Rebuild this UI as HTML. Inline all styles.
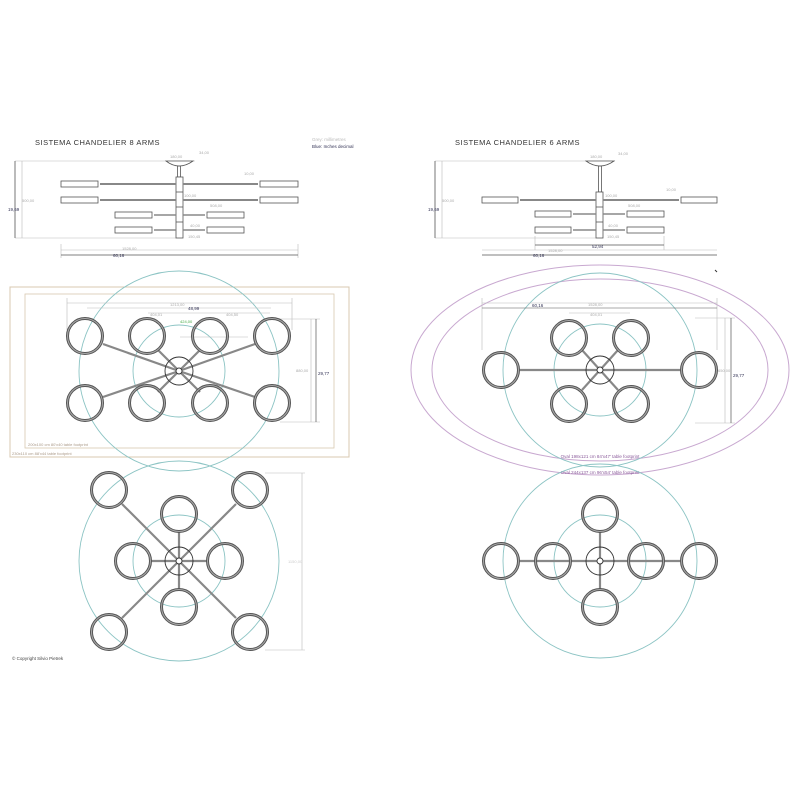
<!DOCTYPE html>
<html><head><meta charset="utf-8"><style>
html,body{margin:0;padding:0;background:#fff;}
svg{display:block}
text{font-family:"Liberation Sans",sans-serif;}
</style></head><body>
<svg width="800" height="800" viewBox="0 0 800 800" xmlns="http://www.w3.org/2000/svg">
<defs>
<g id="lampr"><circle r="17.5" fill="none" stroke="#555" stroke-width="3"/><circle r="17.5" fill="none" stroke="#aaa" stroke-width="1"/></g>
</defs>
<!-- ============ LEFT SIDE VIEW ============ -->
<text x="35" y="145" font-size="7.5" fill="#333" letter-spacing="0.5">SISTEMA  CHANDELIER  8  ARMS</text>
<text x="312" y="141" font-size="4.5" fill="#bbb">Grey: millimetres</text>
<text x="312" y="148" font-size="4.5" fill="#335">Blue: Inches  decimal</text>
<g stroke="#bbb" stroke-width="0.6" fill="none">
<line x1="15" y1="161" x2="195" y2="161"/><line x1="15" y1="238" x2="176" y2="238"/>
<line x1="61" y1="250" x2="298" y2="250"/><line x1="61" y1="244" x2="61" y2="258"/><line x1="298" y1="244" x2="298" y2="258"/>
<line x1="22" y1="161" x2="22" y2="238"/>
</g>
<g stroke="#555" stroke-width="0.8" fill="none">
<line x1="15" y1="161" x2="15" y2="238"/>
<line x1="61" y1="255" x2="298" y2="255"/>
<path d="M166 161 Q179 171 193 161 Z" fill="#fff"/>
<rect x="177.5" y="166" width="3" height="11"/>
<rect x="176" y="177" width="7" height="61" fill="#fff"/>
<line x1="176" y1="192" x2="183" y2="192"/><line x1="176" y1="207" x2="183" y2="207"/><line x1="176" y1="222" x2="183" y2="222"/>
<rect x="61" y="181" width="37" height="6" fill="#fff"/><rect x="260" y="181" width="38" height="6" fill="#fff"/>
<rect x="61" y="197" width="37" height="6" fill="#fff"/><rect x="260" y="197" width="38" height="6" fill="#fff"/>
<rect x="115" y="212" width="37" height="6" fill="#fff"/><rect x="207" y="212" width="37" height="6" fill="#fff"/>
<rect x="115" y="227" width="37" height="6" fill="#fff"/><rect x="207" y="227" width="37" height="6" fill="#fff"/>
</g>
<g stroke="#888" stroke-width="2"><line x1="100" y1="184" x2="176" y2="184"/><line x1="183" y1="184" x2="258" y2="184"/>
<line x1="100" y1="200" x2="176" y2="200"/><line x1="183" y1="200" x2="258" y2="200"/>
<line x1="154" y1="215" x2="176" y2="215" stroke-width="1.4"/><line x1="183" y1="215" x2="205" y2="215" stroke-width="1.4"/>
<line x1="154" y1="230" x2="176" y2="230" stroke-width="1.4"/><line x1="183" y1="230" x2="205" y2="230" stroke-width="1.4"/></g>
<g font-size="4" fill="#aaa"><text x="170" y="158">180,00</text><text x="199" y="154">34,00</text><text x="244" y="175">10,00</text>
<text x="184" y="197">100,00</text><text x="210" y="207">508,00</text><text x="190" y="227">40,00</text><text x="188" y="238">150,45</text>
<text x="122" y="250">1528,00</text><text x="22" y="202">500,00</text></g>
<text x="8" y="211" font-size="4.5" fill="#335">19,69</text>
<text x="113" y="257" font-size="4.5" fill="#335">60,16</text>
<!-- ============ LEFT PLAN ============ -->
<rect x="10" y="287" width="339" height="170" fill="none" stroke="#d8c8b0" stroke-width="1"/>
<rect x="25" y="294" width="309" height="154" fill="none" stroke="#d8c8b0" stroke-width="0.8"/>
<text x="28" y="446" font-size="4" fill="#a98">200x100  cm  80'x40  table  footprint</text>
<text x="12" y="455" font-size="4" fill="#a98">230x110  cm  88'x44  table  footprint</text>
<g fill="none" stroke="#8cc4c4" stroke-width="0.9"><circle cx="179" cy="371" r="100"/><circle cx="179" cy="371" r="46"/></g>
<g stroke="#bbb" stroke-width="0.6" fill="none"><line x1="67" y1="303" x2="292" y2="303"/><line x1="87" y1="308" x2="271" y2="308"/>
<line x1="148" y1="313" x2="270" y2="313"/><line x1="67" y1="298" x2="67" y2="330"/><line x1="292" y1="298" x2="292" y2="330"/>
<line x1="180" y1="337" x2="248" y2="337"/><line x1="280" y1="319" x2="320" y2="319"/><line x1="280" y1="422" x2="320" y2="422"/>
<line x1="311" y1="319" x2="311" y2="422"/></g>
<line x1="316" y1="319" x2="316" y2="422" stroke="#555" stroke-width="0.7"/>
<g font-size="4" fill="#aaa"><text x="170" y="306">1213,00</text><text x="150" y="316">404,01</text><text x="226" y="316">404,50</text><text x="296" y="372">880,00</text></g>
<text x="188" y="310" font-size="4.5" fill="#335">48,99</text>
<text x="318" y="375" font-size="4.5" fill="#335">29,77</text>
<text x="180" y="323" font-size="4" fill="#4a4">424,00</text>
<g stroke="#888" stroke-width="2.2"><line x1="179" y1="371" x2="103" y2="344"/><line x1="179" y1="371" x2="255" y2="344"/><line x1="179" y1="371" x2="103" y2="397"/><line x1="179" y1="371" x2="255" y2="397"/>
<line x1="179" y1="371" x2="158" y2="350"/><line x1="179" y1="371" x2="200" y2="350"/><line x1="179" y1="371" x2="158" y2="392"/><line x1="179" y1="371" x2="200" y2="392"/></g>
<g fill="none" stroke="#333" stroke-width="0.9"><circle cx="179" cy="371" r="14" fill="none"/><circle cx="179" cy="371" r="3" fill="#fff"/></g>
<use href="#lampr" x="85" y="336"/><use href="#lampr" x="147" y="336"/><use href="#lampr" x="210" y="336"/><use href="#lampr" x="272" y="336"/>
<use href="#lampr" x="85" y="403"/><use href="#lampr" x="147" y="403"/><use href="#lampr" x="210" y="403"/><use href="#lampr" x="272" y="403"/>
<!-- ============ LEFT BOTTOM ============ -->
<g fill="none" stroke="#8cc4c4" stroke-width="0.9"><circle cx="179" cy="561" r="100"/><circle cx="179" cy="561" r="46"/></g>
<g stroke="#bbb" stroke-width="0.6"><line x1="302" y1="473" x2="302" y2="650"/><line x1="265" y1="473" x2="305" y2="473"/><line x1="265" y1="650" x2="305" y2="650"/></g>
<text x="288" y="563" font-size="4" fill="#ccc">1150,00</text>
<g stroke="#888" stroke-width="2.2"><line x1="179" y1="561" x2="122" y2="504"/><line x1="179" y1="561" x2="236" y2="504"/><line x1="179" y1="561" x2="122" y2="618"/><line x1="179" y1="561" x2="236" y2="618"/>
<line x1="179" y1="561" x2="179" y2="532"/><line x1="179" y1="561" x2="179" y2="590"/><line x1="179" y1="561" x2="151" y2="561"/><line x1="179" y1="561" x2="207" y2="561"/></g>
<g fill="none" stroke="#333" stroke-width="0.9"><circle cx="179" cy="561" r="14"/><circle cx="179" cy="561" r="3" fill="#fff"/></g>
<use href="#lampr" x="109" y="490"/><use href="#lampr" x="250" y="490"/><use href="#lampr" x="109" y="632"/><use href="#lampr" x="250" y="632"/>
<use href="#lampr" x="179" y="514"/><use href="#lampr" x="133" y="561"/><use href="#lampr" x="225" y="561"/><use href="#lampr" x="179" y="607"/>
<text x="12" y="660" font-size="4.5" fill="#444">© Copyright Silvio Pietrek</text>
<!-- ============ RIGHT SIDE VIEW ============ -->
<text x="455" y="145" font-size="7.5" fill="#333" letter-spacing="0.5">SISTEMA  CHANDELIER  6  ARMS</text>
<g stroke="#bbb" stroke-width="0.6" fill="none">
<line x1="435" y1="161" x2="615" y2="161"/><line x1="435" y1="238" x2="596" y2="238"/>
<line x1="482" y1="250" x2="717" y2="250"/><line x1="442" y1="161" x2="442" y2="238"/>
<line x1="535" y1="236" x2="535" y2="250"/><line x1="664" y1="236" x2="664" y2="250"/>
</g>
<g stroke="#555" stroke-width="0.8" fill="none">
<line x1="435" y1="161" x2="435" y2="238"/>
<line x1="482" y1="255" x2="717" y2="255"/><line x1="535" y1="245" x2="664" y2="245"/>
<path d="M586 161 Q600 171 614 161 Z" fill="#fff"/>
<rect x="598.5" y="166" width="3" height="26"/>
<rect x="596" y="192" width="7" height="46" fill="#fff"/>
<line x1="596" y1="207" x2="603" y2="207"/><line x1="596" y1="222" x2="603" y2="222"/>
<rect x="482" y="197" width="36" height="6" fill="#fff"/><rect x="681" y="197" width="36" height="6" fill="#fff"/>
<rect x="535" y="211" width="36" height="6" fill="#fff"/><rect x="627" y="211" width="37" height="6" fill="#fff"/>
<rect x="535" y="227" width="36" height="6" fill="#fff"/><rect x="627" y="227" width="37" height="6" fill="#fff"/>
</g>
<g stroke="#888" stroke-width="2"><line x1="520" y1="200" x2="596" y2="200"/><line x1="603" y1="200" x2="679" y2="200"/>
<line x1="573" y1="214" x2="596" y2="214" stroke-width="1.4"/><line x1="603" y1="214" x2="625" y2="214" stroke-width="1.4"/>
<line x1="573" y1="230" x2="596" y2="230" stroke-width="1.4"/><line x1="603" y1="230" x2="625" y2="230" stroke-width="1.4"/></g>
<g font-size="4" fill="#aaa"><text x="590" y="158">180,00</text><text x="618" y="155">34,00</text><text x="666" y="191">10,00</text>
<text x="605" y="197">100,00</text><text x="628" y="207">508,00</text><text x="608" y="227">40,00</text><text x="607" y="238">150,45</text>
<text x="548" y="252">1528,00</text><text x="442" y="202">500,00</text></g>
<text x="428" y="211" font-size="4.5" fill="#335">19,69</text>
<text x="592" y="248" font-size="4.5" fill="#335">52,94</text>
<text x="533" y="257" font-size="4.5" fill="#335">60,16</text>
<!-- ============ RIGHT PLAN ============ -->
<g fill="none" stroke="#c8a8d0" stroke-width="1"><ellipse cx="600" cy="370" rx="189" ry="105"/><ellipse cx="600" cy="370" rx="168" ry="91"/></g>
<g fill="none" stroke="#8cc4c4" stroke-width="0.9"><circle cx="600" cy="370" r="97"/><circle cx="600" cy="370" r="46"/></g>
<g stroke="#bbb" stroke-width="0.6" fill="none"><line x1="482" y1="303" x2="717" y2="303"/><line x1="569" y1="313" x2="630" y2="313"/>
<line x1="482" y1="298" x2="482" y2="350"/><line x1="717" y1="298" x2="717" y2="350"/><line x1="695" y1="318" x2="735" y2="318"/><line x1="695" y1="423" x2="735" y2="423"/><line x1="725" y1="318" x2="725" y2="423"/></g>
<line x1="731" y1="318" x2="731" y2="423" stroke="#555" stroke-width="0.7"/>
<line x1="482" y1="308" x2="717" y2="308" stroke="#555" stroke-width="0.6"/>
<g font-size="4" fill="#aaa"><text x="588" y="306">1528,00</text><text x="590" y="316">404,01</text><text x="718" y="372">650,00</text></g>
<text x="532" y="307" font-size="4.5" fill="#335">60,16</text>
<text x="733" y="377" font-size="4.5" fill="#335">29,77</text>
<g stroke="#888" stroke-width="2.2"><line x1="520" y1="370" x2="680" y2="370"/>
<line x1="600" y1="370" x2="582" y2="350"/><line x1="600" y1="370" x2="618" y2="350"/><line x1="600" y1="370" x2="582" y2="390"/><line x1="600" y1="370" x2="618" y2="390"/></g>
<g fill="none" stroke="#333" stroke-width="0.9"><circle cx="600" cy="370" r="14"/><circle cx="600" cy="370" r="3" fill="#fff"/></g>
<use href="#lampr" x="501" y="370"/><use href="#lampr" x="699" y="370"/>
<use href="#lampr" x="569" y="338"/><use href="#lampr" x="631" y="338"/><use href="#lampr" x="569" y="404"/><use href="#lampr" x="631" y="404"/>
<text x="600" y="458" font-size="4.5" fill="#8a5a9a" text-anchor="middle">Oval  198x121  cm  84'x47'  table  footprint</text>
<text x="600" y="474" font-size="4.5" fill="#8a5a9a" text-anchor="middle">Oval  244x137  cm  96'x54'  table  footprint</text>
<!-- ============ RIGHT BOTTOM ============ -->
<g fill="none" stroke="#8cc4c4" stroke-width="0.9"><circle cx="600" cy="561" r="97"/><circle cx="600" cy="561" r="46"/></g>
<g stroke="#888" stroke-width="2.2"><line x1="520" y1="561" x2="680" y2="561"/><line x1="600" y1="532" x2="600" y2="590"/></g>
<g fill="none" stroke="#333" stroke-width="0.9"><circle cx="600" cy="561" r="14"/><circle cx="600" cy="561" r="3" fill="#fff"/></g>
<use href="#lampr" x="501" y="561"/><use href="#lampr" x="553" y="561"/><use href="#lampr" x="646" y="561"/><use href="#lampr" x="699" y="561"/>
<use href="#lampr" x="600" y="514"/><use href="#lampr" x="600" y="607"/>
<line x1="715" y1="270" x2="717" y2="272" stroke="#333" stroke-width="1"/>
</svg>
</body></html>
